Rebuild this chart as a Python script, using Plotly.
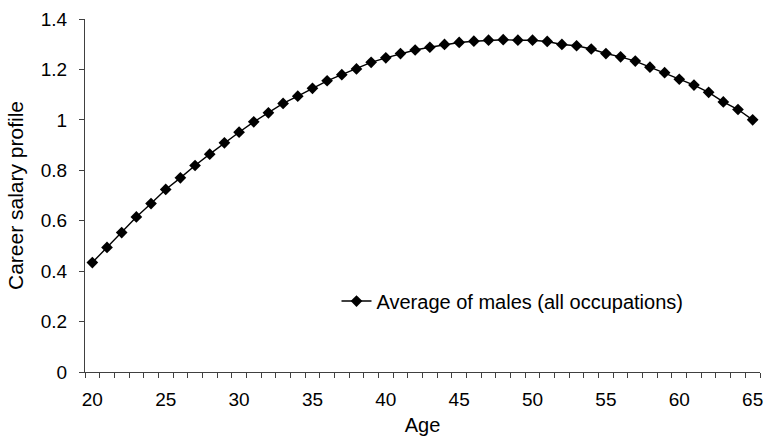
import plotly.graph_objects as go

ages = list(range(20, 66))
salary_profile = [
    0.434, 0.494, 0.553, 0.615, 0.668, 0.724, 0.770, 0.819, 0.864, 0.909,
    0.951, 0.992, 1.028, 1.065, 1.094, 1.125, 1.155, 1.179, 1.202, 1.228,
    1.246, 1.263, 1.277, 1.288, 1.299, 1.307, 1.312, 1.316, 1.318, 1.316,
    1.316, 1.311, 1.299, 1.294, 1.281, 1.263, 1.250, 1.233, 1.209, 1.187,
    1.161, 1.138, 1.109, 1.071, 1.041, 1.000,
]
x_tick_labels = [20, 25, 30, 35, 40, 45, 50, 55, 60, 65]
y_tick_values = [0, 0.2, 0.4, 0.6, 0.8, 1, 1.2, 1.4]
series_name = "Average of males (all occupations)"

FONT = "Liberation Sans, Arial, sans-serif"
AXIS_COLOR = "#404040"

fig = go.Figure()
fig.add_trace(go.Scatter(
    x=ages, y=salary_profile, mode="lines+markers", name=series_name,
    line=dict(color="black", width=1.4),
    marker=dict(symbol="diamond", size=9, color="black"),
))

fig.update_layout(
    width=764, height=438,
    margin=dict(l=85, r=4, t=19, b=66, autoexpand=False),
    paper_bgcolor="white", plot_bgcolor="white",
    font=dict(family=FONT, size=19, color="black"),
    showlegend=True,
    legend=dict(x=0.3726, y=0.201, xanchor="left", yanchor="middle",
                bgcolor="rgba(0,0,0,0)", font=dict(size=20)),
    xaxis=dict(
        range=[19.5, 65.5], showgrid=False, zeroline=False, automargin=False,
        showline=True, linecolor=AXIS_COLOR, linewidth=1,
        tickmode="array", tickvals=x_tick_labels,
        ticktext=[str(v) for v in x_tick_labels],
        ticks="", ticklabelstandoff=10, tickfont=dict(size=19),
        ticklabeloverflow="allow",
        minor=dict(tickmode="linear", tick0=19.5, dtick=1, ticks="outside",
                   ticklen=5, tickcolor=AXIS_COLOR, showgrid=False),
        title=dict(text="Age", standoff=9, font=dict(size=20)),
    ),
    yaxis=dict(
        range=[0, 1.4], showgrid=False, zeroline=False, automargin=False,
        showline=True, linecolor=AXIS_COLOR, linewidth=1,
        tickmode="array", tickvals=y_tick_values,
        ticktext=["0", "0.2", "0.4", "0.6", "0.8", "1", "1.2", "1.4"],
        ticks="outside", ticklen=5, tickcolor=AXIS_COLOR,
        ticklabelstandoff=8, tickfont=dict(size=19),
        title=dict(text="Career salary profile", standoff=11, font=dict(size=21)),
    ),
)

fig.write_html(
    "out.html",
    config={"displayModeBar": False},
    post_script="document.body.style.margin='0';document.body.style.overflow='hidden';",
)
